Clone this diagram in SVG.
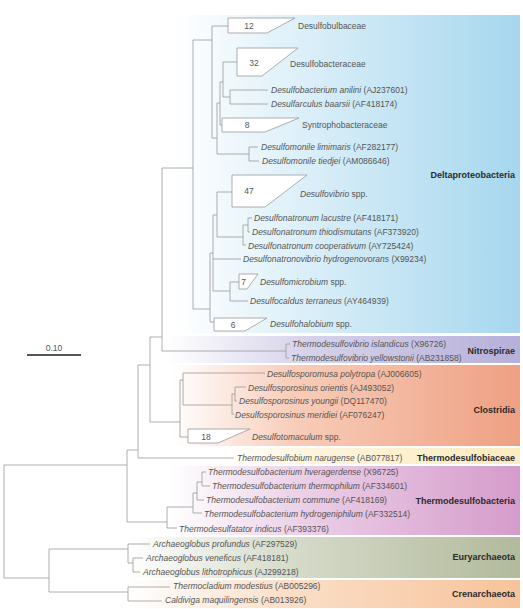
<svg xmlns="http://www.w3.org/2000/svg" width="523" height="609" viewBox="0 0 523 609">
<defs>
<linearGradient id="gDelta" x1="0" y1="0" x2="1" y2="0"><stop offset="0" stop-color="#ffffff"/><stop offset="0.4" stop-color="#d9eef8"/><stop offset="1" stop-color="#a6d7ee"/></linearGradient>
<linearGradient id="gNitro" x1="0" y1="0" x2="1" y2="0"><stop offset="0" stop-color="#ffffff"/><stop offset="0.4" stop-color="#d6d2ea"/><stop offset="1" stop-color="#b6b0da"/></linearGradient>
<linearGradient id="gClos" x1="0" y1="0" x2="1" y2="0"><stop offset="0" stop-color="#ffffff"/><stop offset="0.35" stop-color="#f8cdb9"/><stop offset="1" stop-color="#eea083"/></linearGradient>
<linearGradient id="gTbi" x1="0" y1="0" x2="1" y2="0"><stop offset="0" stop-color="#ffffff"/><stop offset="0.3" stop-color="#fdf4dc"/><stop offset="1" stop-color="#fcebbf"/></linearGradient>
<linearGradient id="gTdb" x1="0" y1="0" x2="1" y2="0"><stop offset="0" stop-color="#ffffff"/><stop offset="0.4" stop-color="#ebcde6"/><stop offset="1" stop-color="#d59ccb"/></linearGradient>
<linearGradient id="gEury" x1="0" y1="0" x2="1" y2="0"><stop offset="0" stop-color="#ffffff"/><stop offset="0.4" stop-color="#d7dccb"/><stop offset="1" stop-color="#b2ba9c"/></linearGradient>
<linearGradient id="gCren" x1="0" y1="0" x2="1" y2="0"><stop offset="0" stop-color="#ffffff"/><stop offset="0.4" stop-color="#fbdfc8"/><stop offset="1" stop-color="#f7c39b"/></linearGradient>
</defs>
<style>
.ln{stroke:#9a9a9a;stroke-width:0.8;fill:none}
.box{fill:#ffffff;stroke:#9a9a9a;stroke-width:0.8}
text{font-family:"Liberation Sans",Arial,sans-serif;font-size:8.5px;fill:#555555}
.sp{font-style:italic}
.acc{font-style:normal}
.num{text-anchor:middle}
.grp{font-weight:bold;font-size:9px;fill:#2a2a2a;text-anchor:end}
</style>
<rect width="523" height="609" fill="#ffffff"/>
<g id="bands">
<rect x="175" y="15" width="345" height="318" fill="url(#gDelta)"/>
<rect x="165" y="336" width="355" height="27" fill="url(#gNitro)"/>
<rect x="172" y="365" width="348" height="81" fill="url(#gClos)"/>
<rect x="225" y="448" width="295" height="16" fill="url(#gTbi)"/>
<rect x="170" y="466" width="350" height="69" fill="url(#gTdb)"/>
<rect x="128" y="537" width="392" height="41" fill="url(#gEury)"/>
<rect x="128" y="580" width="392" height="28" fill="url(#gCren)"/>
</g>
<g id="connectors" class="ln">
<path d="M162,168 H193 M193,40 V309 M193,40 H212 M212,26 V138 M212,26 H228 M212,138 H217 M217,103 V154 M217,103 H220 M220,82 V125 M220,82 H223 M223,62 V97 M223,62 H237 M223,97 H230 M230,90 V104 M230,90 H268 M230,104 H268 M220,125 H222 M217,154 H249 M249,147 V161 M249,147 H258 M249,161 H259"/>
<path d="M193,309 H210 M210,253 V322 M210,322 H214 M210,253 H213 M213,215 V291 M213,215 H217 M217,192 V237 M217,192 H232 M217,237 H243 M243,225 V245 M243,225 H248 M248,218 V232 M248,218 H252 M248,232 H250 M243,245 H246 M213,259 H241 M213,291 H230 M230,282 V301 M230,282 H239 M230,301 H248"/>
<path d="M162,168 V351 M162,351 H286 M286,344 V358 M286,344 H290 M286,358 H289 M150,337 H162 M150,337 V422 M150,422 H180 M180,380 V437 M180,437 H188 M180,380 H183 M183,373 V405 M183,373 H265 M183,405 H232 M232,394 V414 M232,394 H235 M235,387 V401 M235,387 H246 M235,401 H237 M232,414 H234"/>
<path d="M138,365 H150 M138,365 V458 M138,458 H234 M127,450 H138 M127,450 V522 M127,522 H167 M167,507 V528 M167,528 H177 M167,507 H193 M193,493 V513 M193,513 H202 M193,493 H197 M197,482 V500 M197,500 H204 M197,482 H202 M202,472 V486 M202,472 H206 M202,486 H210"/>
<path d="M4,465 V578 M4,465 H127 M4,578 H49 M49,549 V592 M49,549 H128 M128,544 V563 M128,544 H150 M128,563 H133 M133,558 V572 M133,558 H143 M133,572 H140 M49,592 H128 M128,587 V601 M128,587 H170 M128,601 H162"/>
</g>
<g id="scale">
<line x1="27" y1="355" x2="81" y2="355" stroke="#555555" stroke-width="1.8"/>
<text x="54" y="351" class="num">0.10</text>
</g>
<g id="desulfobulbaceae"><polygon class="box" points="228,18 295,18 267,33 228,33"/><text x="249" y="29" class="num">12</text><text x="298" y="29">Desulfobulbaceae</text></g>
<g id="desulfobacteraceae"><polygon class="box" points="237,48 298,48 262,76 237,76"/><text x="254" y="66" class="num">32</text><text x="290" y="67">Desulfobacteraceae</text></g>
<g id="anilini"><text x="271" y="93" class="sp">Desulfobacterium anilini<tspan class="acc"> (AJ237601)</tspan></text></g>
<g id="baarsii"><text x="271" y="107" class="sp">Desulfarculus baarsii<tspan class="acc"> (AF418174)</tspan></text></g>
<g id="syntrophobacteraceae"><polygon class="box" points="222,118 299,118 265,132 222,132"/><text x="247" y="128" class="num">8</text><text x="302" y="128">Syntrophobacteraceae</text></g>
<g id="limimaris"><text x="261" y="150" class="sp">Desulfomonile limimaris<tspan class="acc"> (AF282177)</tspan></text></g>
<g id="tiedjei"><text x="262" y="164" class="sp">Desulfomonile tiedjei<tspan class="acc"> (AM086646)</tspan></text></g>
<g id="desulfovibrio"><polygon class="box" points="232,175 307,175 265,207 232,207"/><text x="249" y="194" class="num">47</text><text x="300" y="197" class="sp">Desulfovibrio<tspan class="acc"> spp.</tspan></text></g>
<g id="lacustre"><text x="254" y="221" class="sp">Desulfonatronum lacustre<tspan class="acc"> (AF418171)</tspan></text></g>
<g id="thiodismutans"><text x="252" y="235" class="sp">Desulfonatronum thiodismutans<tspan class="acc"> (AF373920)</tspan></text></g>
<g id="cooperativum"><text x="248" y="249" class="sp">Desulfonatronum cooperativum<tspan class="acc"> (AY725424)</tspan></text></g>
<g id="hydrogenovorans"><text x="243" y="262" class="sp">Desulfonatronovibrio hydrogenovorans<tspan class="acc"> (X99234)</tspan></text></g>
<g id="desulfomicrobium"><polygon class="box" points="239,274 258,274 247,289 239,289"/><text x="243.5" y="285" class="num">7</text><text x="260" y="285" class="sp">Desulfomicrobium<tspan class="acc"> spp.</tspan></text></g>
<g id="terraneus"><text x="250" y="304" class="sp">Desulfocaldus terraneus<tspan class="acc"> (AY464939)</tspan></text></g>
<g id="desulfohalobium"><polygon class="box" points="214,318 267,318 245,331 214,331"/><text x="233" y="328" class="num">6</text><text x="270" y="327" class="sp">Desulfohalobium<tspan class="acc"> spp.</tspan></text></g>
<g id="islandicus"><text x="292" y="347" class="sp">Thermodesulfovibrio islandicus<tspan class="acc"> (X96726)</tspan></text></g>
<g id="yellowstonii"><text x="291" y="361" class="sp">Thermodesulfovibrio yellowstonii<tspan class="acc"> (AB231858)</tspan></text></g>
<g id="polytropa"><text x="267" y="377" class="sp">Desulfosporomusa polytropa<tspan class="acc"> (AJ006605)</tspan></text></g>
<g id="orientis"><text x="248" y="391" class="sp">Desulfosporosinus orientis<tspan class="acc"> (AJ493052)</tspan></text></g>
<g id="youngii"><text x="239" y="404" class="sp">Desulfosporosinus youngii<tspan class="acc"> (DQ117470)</tspan></text></g>
<g id="meridiei"><text x="235" y="418" class="sp">Desulfosporosinus meridiei<tspan class="acc"> (AF076247)</tspan></text></g>
<g id="desulfotomaculum"><polygon class="box" points="188,429 250,429 218,443 188,443"/><text x="206" y="440" class="num">18</text><text x="252" y="440" class="sp">Desulfotomaculum<tspan class="acc"> spp.</tspan></text></g>
<g id="narugense"><text x="237" y="461" class="sp">Thermodesulfobium narugense<tspan class="acc"> (AB077817)</tspan></text></g>
<g id="hveragerdense"><text x="208" y="475" class="sp">Thermodesulfobacterium hveragerdense<tspan class="acc"> (X96725)</tspan></text></g>
<g id="thermophilum"><text x="212" y="489" class="sp">Thermodesulfobacterium thermophilum<tspan class="acc"> (AF334601)</tspan></text></g>
<g id="commune"><text x="206" y="503" class="sp">Thermodesulfobacterium commune<tspan class="acc"> (AF418169)</tspan></text></g>
<g id="hydrogeniphilum"><text x="204" y="517" class="sp">Thermodesulfobacterium hydrogeniphilum<tspan class="acc"> (AF332514)</tspan></text></g>
<g id="indicus"><text x="179" y="532" class="sp">Thermodesulfatator indicus<tspan class="acc"> (AF393376)</tspan></text></g>
<g id="profundus"><text x="153" y="547" class="sp">Archaeoglobus profundus<tspan class="acc"> (AF297529)</tspan></text></g>
<g id="veneficus"><text x="146" y="561" class="sp">Archaeoglobus veneficus<tspan class="acc"> (AF418181)</tspan></text></g>
<g id="lithotrophicus"><text x="143" y="575" class="sp">Archaeoglobus lithotrophicus<tspan class="acc"> (AJ299218)</tspan></text></g>
<g id="modestius"><text x="173" y="589" class="sp">Thermocladium modestius<tspan class="acc"> (AB005296)</tspan></text></g>
<g id="maquilingensis"><text x="165" y="603" class="sp">Caldiviga maquilingensis<tspan class="acc"> (AB013926)</tspan></text></g>
<g id="group-labels">
<text x="515" y="178" class="grp">Deltaproteobacteria</text>
<text x="515" y="354" class="grp">Nitrospirae</text>
<text x="515" y="413" class="grp">Clostridia</text>
<text x="515" y="461" class="grp">Thermodesulfobiaceae</text>
<text x="515" y="504" class="grp">Thermodesulfobacteria</text>
<text x="515" y="560" class="grp">Euryarchaeota</text>
<text x="515" y="597" class="grp">Crenarchaeota</text>
</g>
</svg>
